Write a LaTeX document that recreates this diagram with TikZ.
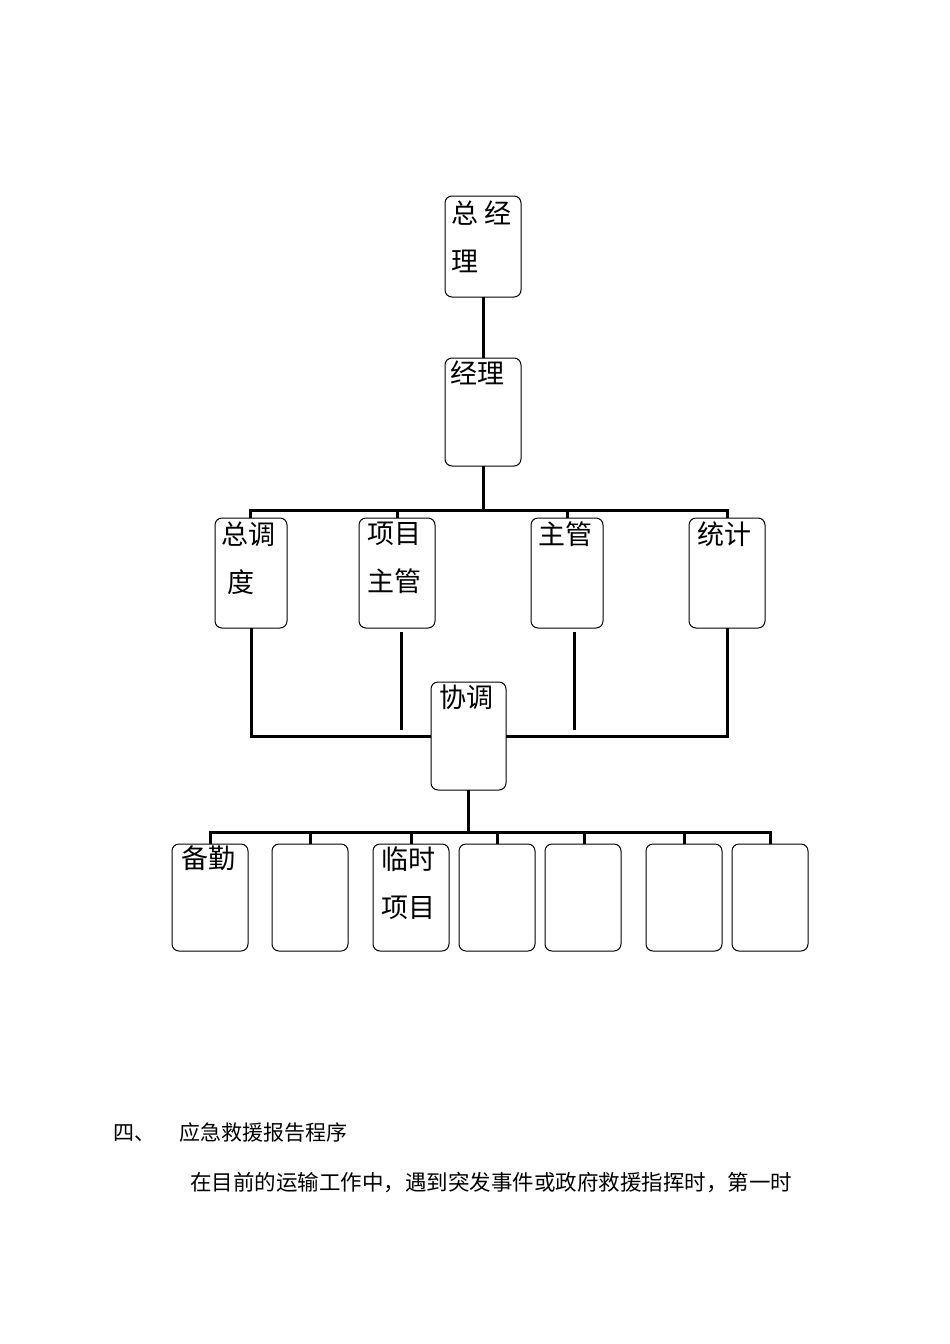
\documentclass[tikz,border=0pt]{standalone}
\usepackage{fontspec}
\newfontfamily\cjk{Noto Sans CJK SC}
\begin{document}
\begin{tikzpicture}[x=1pt,y=-1pt,
  bx/.style={draw,rounded corners=7pt,line width=1pt},
  ln/.style={line width=3pt},
  lbl/.style={font=\cjk\fontsize{27}{48}\selectfont,anchor=north west,inner sep=0pt,align=left}]
\useasboundingbox (0,0) rectangle (950,1344);
\fill[white] (0,0) rectangle (950,1344);
% boxes
\draw[bx] (445,196) rectangle (521,297);
\node[lbl] (zjl) at (451,201) {总 经\\理};
\draw[bx] (445,358) rectangle (521,466);
\node[lbl] (jl) at (450,361) {经理};
\draw[bx] (215,518) rectangle (287,628);
\node[lbl] (zdd) at (221,522) {总调\\\ 度};
\draw[bx] (359,518) rectangle (435,628);
\node[lbl] (xmzg) at (367,522) {项目\\主管};
\draw[bx] (531,518) rectangle (603,628);
\node[lbl] (zg) at (538,522) {主管};
\draw[bx] (689,518) rectangle (765,628);
\node[lbl] (tj) at (697,522) {统计};
\draw[bx] (431,682) rectangle (506,790);
\node[lbl] (xt) at (439,685) {协调};
\foreach \a/\b in {172/248,272/348,373/449,459/535,545/621,646/722,732/808}
  \draw[bx] (\a,844) rectangle (\b,951);
\node[lbl] (bq) at (181,846) {备勤};
\node[lbl] (lsxm) at (381,846) {临时\\项目};
% connectors
\draw[ln] (483,297) -- (483,358);
\draw[ln] (483,466) -- (483,510);
\draw[ln] (250,518) -- (250,510) -- (727,510) -- (727,518);
\draw[ln] (397,510) -- (397,518);
\draw[ln] (567,510) -- (567,518);
\draw[ln] (251,628) -- (251,736) -- (431,736);
\draw[ln] (727,628) -- (727,736) -- (506,736);
\draw[ln] (401,632) -- (401,730);
\draw[ln] (574,632) -- (574,730);
\draw[ln] (468,790) -- (468,832);
\draw[ln] (210,844) -- (210,832) -- (770,832) -- (770,844);
\foreach \x in {310,411,497,584,684} \draw[ln] (\x,832) -- (\x,844);
% text
\node[font=\cjk\fontsize{21}{24}\selectfont,anchor=west,inner sep=0pt] (t1) at (113,1133) {四、\hspace{24pt}应急救援报告程序};
\node[font=\cjk\fontsize{21.5}{24}\selectfont,anchor=west,inner sep=0pt] (t2) at (190,1182) {在目前的运输工作中，遇到突发事件或政府救援指挥时，第一时};
\end{tikzpicture}
\end{document}
